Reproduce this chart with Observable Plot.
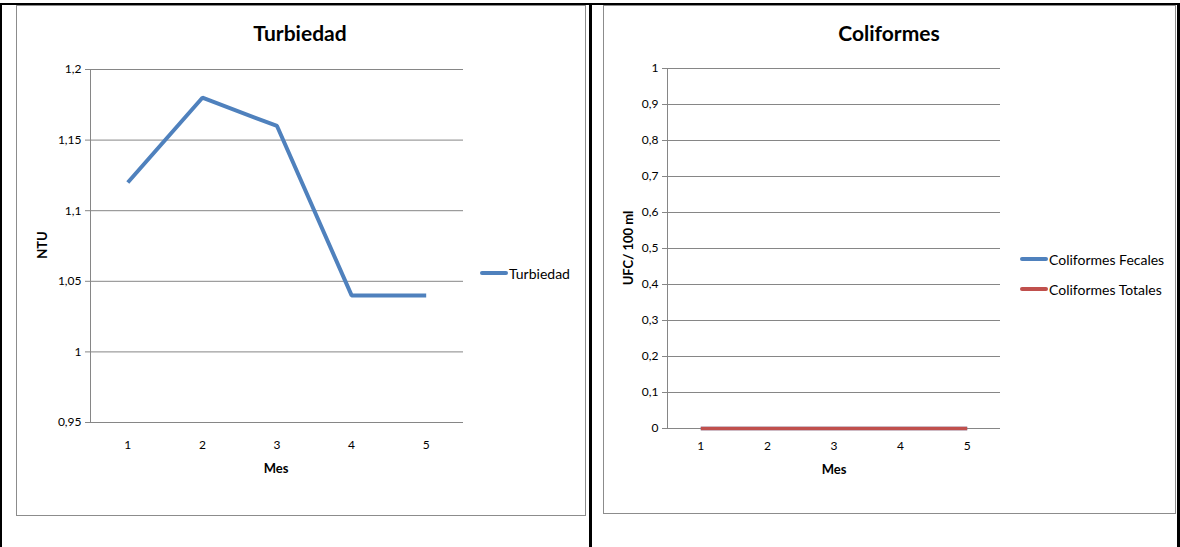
<!DOCTYPE html>
<html>
<head>
<meta charset="utf-8">
<script src="https://cdn.jsdelivr.net/npm/d3@7"></script>
<script src="https://cdn.jsdelivr.net/npm/@observablehq/plot@0.6"></script>
<style>
  html, body { margin: 0; padding: 0; background: #fff; }
  body { width: 1180px; height: 547px; position: relative; overflow: hidden; font-family: Lato, "Open Sans", sans-serif; }
  .abs { position: absolute; }
  .blk { position: absolute; background: #000; }
  .frame { position: absolute; border: 1px solid #8c8c8c; box-sizing: border-box; background: #fff; }
  .title { position: absolute; font-weight: bold; font-size: 21px; color: #000; white-space: nowrap; transform: translateX(-50%); }
  .leg { position: absolute; font-size: 14px; color: #000; white-space: nowrap; display: flex; align-items: center; }
  .leg .sw { display: inline-block; width: 28px; height: 4px; border-radius: 2px; margin-right: 1px; }
</style>
</head>
<body>
<script>
// ---- data ----
const meses = [1, 2, 3, 4, 5];
const turbiedad = [1.12, 1.18, 1.16, 1.04, 1.04];
const coliformesFecales = [0, 0, 0, 0, 0];
const coliformesTotales = [0, 0, 0, 0, 0];
const turbTicks = [0.95, 1, 1.05, 1.1, 1.15, 1.2];
const coliTicks = [0, 0.1, 0.2, 0.3, 0.4, 0.5, 0.6, 0.7, 0.8, 0.9, 1];
const blue = "#4f81bd";
const red = "#c0504d";

const fmt = d => String(d).replace(".", ",");
const body = document.body;

function el(tag, cls, style, text) {
  const e = document.createElement(tag);
  if (cls) e.className = cls;
  Object.assign(e.style, style || {});
  if (text != null) e.textContent = text;
  body.appendChild(e);
  return e;
}

// frames
el("div", "frame", {left: "16px", top: "5px", width: "570px", height: "511px"});
el("div", "frame", {left: "603px", top: "5px", width: "573px", height: "509px"});

// table borders
el("div", "blk", {left: "0px", top: "3px", width: "1180px", height: "2px"});
el("div", "blk", {left: "0px", top: "3px", width: "2px", height: "544px"});
el("div", "blk", {left: "589px", top: "3px", width: "3px", height: "544px"});
el("div", "blk", {left: "1177px", top: "3px", width: "3px", height: "544px"});

function makeChart({left, top, width, height, mL, mR, mT, mB, yDomain, yTicks, series, xPad}) {
  const rows = [];
  series.forEach(s => s.values.forEach((v, i) => rows.push({mes: meses[i], v, serie: s.name})));
  const svg = Plot.plot({
    width, height,
    marginLeft: mL, marginRight: mR, marginTop: mT, marginBottom: mB,
    style: {fontFamily: "Lato, 'Open Sans', sans-serif", fontSize: "12px", color: "#000", background: "transparent", overflow: "visible"},
    x: {type: "point", domain: meses, padding: 0.5, round: false, label: null},
    y: {domain: yDomain, label: null},
    marks: [
      Plot.gridY(yTicks, {stroke: "#868686", strokeOpacity: 1, strokeWidth: 1}),
      Plot.axisY(yTicks, {tickFormat: fmt, tickSize: 5, tickPadding: 4, stroke: "#868686", fill: "#000", fontSize: 12}),
      Plot.axisX(meses, {tickSize: 0, tickPadding: xPad, fill: "#000", fontSize: 12}),
      Plot.ruleY([yDomain[0]], {stroke: "#868686"}),
      Plot.frame({anchor: "left", stroke: "#868686", strokeOpacity: 1}),
      ...series.map(s => Plot.line(rows.filter(r => r.serie === s.name), {x: "mes", y: "v", stroke: s.color, strokeWidth: s.width, strokeLinejoin: "miter", strokeLinecap: "butt"}))
    ]
  });
  svg.style.position = "absolute";
  svg.style.left = left + "px";
  svg.style.top = top + "px";
  body.appendChild(svg);
}

// Turbiedad chart: plot area x 90..463, y 69..422
makeChart({
  left: 0, top: 0, width: 590, height: 547,
  mL: 90, mR: 590 - 463, mT: 69, mB: 547 - 422, xPad: 18,
  yDomain: [0.95, 1.2], yTicks: turbTicks,
  series: [{name: "Turbiedad", values: turbiedad, color: blue, width: 4}]
});
// Coliformes chart: plot area x 667..1000, y 68..428
makeChart({
  left: 590, top: 0, width: 590, height: 547,
  mL: 667 - 590, mR: 1180 - 1000, mT: 68, mB: 547 - 428, xPad: 13,
  yDomain: [0, 1], yTicks: coliTicks,
  series: [
    {name: "Coliformes Fecales", values: coliformesFecales, color: blue, width: 3.5},
    {name: "Coliformes Totales", values: coliformesTotales, color: red, width: 3.5}
  ]
});

// titles
el("div", "title", {left: "300px", top: "20px"}, "Turbiedad");
el("div", "title", {left: "889px", top: "20px"}, "Coliformes");

// axis titles
el("div", "abs", {left: "276px", top: "460px", fontWeight: "bold", fontSize: "13px", transform: "translateX(-50%)"}, "Mes");
el("div", "abs", {left: "834px", top: "461px", fontWeight: "bold", fontSize: "13px", transform: "translateX(-50%)"}, "Mes");
el("div", "abs", {left: "42px", top: "245px", fontWeight: "bold", fontSize: "13px", transform: "translate(-50%,-50%) rotate(-90deg)", whiteSpace: "nowrap"}, "NTU");
el("div", "abs", {left: "628px", top: "248px", fontWeight: "bold", fontSize: "13px", transform: "translate(-50%,-50%) rotate(-90deg)", whiteSpace: "nowrap"}, "UFC/ 100 ml");

// legends
function legend(x, y, color, label) {
  const d = el("div", "leg", {left: x + "px", top: (y - 9) + "px", height: "18px"});
  const sw = document.createElement("span");
  sw.className = "sw";
  sw.style.background = color;
  d.appendChild(sw);
  d.appendChild(document.createTextNode(label));
}
legend(480, 273, blue, "Turbiedad");
legend(1020, 259, blue, "Coliformes Fecales");
legend(1020, 289, red, "Coliformes Totales");
</script>
</body>
</html>
